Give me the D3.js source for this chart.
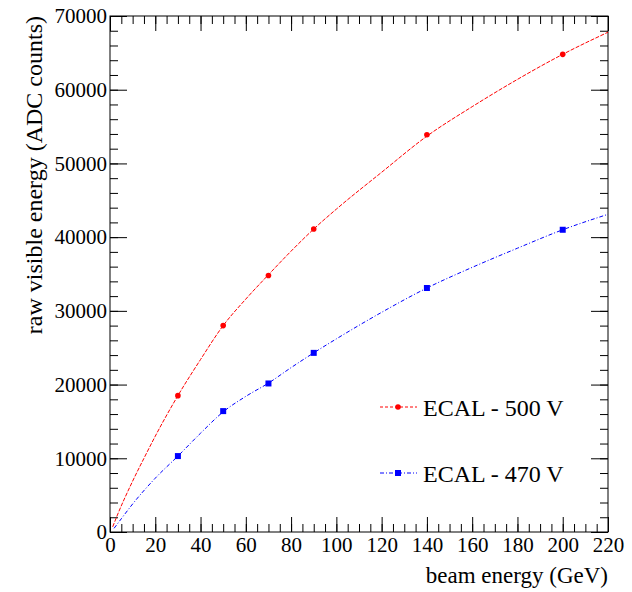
<!DOCTYPE html>
<html>
<head>
<meta charset="utf-8">
<script src="https://cdn.jsdelivr.net/npm/d3@7"></script>
<style>
  body { margin: 0; background: #fff; }
</style>
</head>
<body>
<div id="frame"></div>
<script>
// measured points
const energies = [30, 50, 70, 90, 140, 200];
const ecal500 = [18500, 28000, 34800, 41100, 53900, 64800];
const ecal470 = [10300, 16400, 20150, 24300, 33100, 41000];

// fit curves
const fitX500 = [1.2, 3, 10, 15, 20, 30, 40, 50, 60, 70, 80, 90, 100, 120, 140, 160, 180, 200, 220];
const fitY500 = [700, 2100, 6900, 10000, 13000, 18500, 23400, 28000, 31600, 34900, 38100, 41100, 43800, 48800, 53700, 57700, 61400, 64800, 67800];
const fitX470 = [1.8, 5, 10, 20, 30, 40, 50, 60, 70, 80, 90, 100, 120, 140, 160, 180, 200, 220];
const fitY470 = [500, 1800, 3800, 7300, 10300, 13400, 16300, 18400, 20200, 22300, 24300, 26200, 29800, 33100, 35900, 38500, 41000, 43100];

const xMajor = d3.range(0, 221, 20);
const xMinor = d3.range(0, 221, 5);
const yMajor = d3.range(0, 70001, 10000);
const yMinor = d3.range(0, 70001, 2000);

const legendLabels = ['ECAL - 500 V', 'ECAL - 470 V'];

const serif = '"Liberation Serif"';

let margin = { top: 16, right: 24, bottom: 60, left: 110 },
    width = 632 - margin.left - margin.right,
    height = 592 - margin.top - margin.bottom;

let svg = d3.select('#frame')
    .append('svg')
    .attr('width', 632)
    .attr('height', 592)
    .append('g')
    .attr('transform', 'translate(' + margin.left + ',' + margin.top + ')');

let x = d3.scaleLinear().domain([0, 220]).range([0, width]);
let y = d3.scaleLinear().domain([0, 70000]).range([height, 0]);

// ticks on all four sides, pointing inward
function axisStyle(g) {
    g.attr('font-family', null).attr('font-size', null);
    g.select('.domain').remove();
    g.selectAll('line').attr('stroke', '#000').attr('stroke-width', 1);
    g.selectAll('text')
        .attr('fill', '#000')
        .style('font-family', serif)
        .style('font-size', '21px');
}
svg.append('g').attr('transform', 'translate(0,' + height + ')')
    .call(d3.axisBottom(x).tickValues(xMinor).tickSize(-8).tickFormat(''))
    .call(axisStyle);
svg.append('g').attr('transform', 'translate(0,' + height + ')')
    .call(d3.axisBottom(x).tickValues(xMajor).tickSize(-15).tickPadding(5).tickFormat(d3.format('d')))
    .call(axisStyle);
svg.append('g')
    .call(d3.axisTop(x).tickValues(xMinor).tickSize(-8).tickFormat(''))
    .call(axisStyle);
svg.append('g')
    .call(d3.axisTop(x).tickValues(xMajor).tickSize(-15).tickFormat(''))
    .call(axisStyle);

svg.append('g')
    .call(d3.axisLeft(y).tickValues(yMinor).tickSize(-8).tickFormat(''))
    .call(axisStyle);
svg.append('g')
    .call(d3.axisLeft(y).tickValues(yMajor).tickSize(-17).tickPadding(3).tickFormat(d3.format('d')))
    .call(axisStyle);
svg.append('g').attr('transform', 'translate(' + width + ',0)')
    .call(d3.axisRight(y).tickValues(yMinor).tickSize(-8).tickFormat(''))
    .call(axisStyle);
svg.append('g').attr('transform', 'translate(' + width + ',0)')
    .call(d3.axisRight(y).tickValues(yMajor).tickSize(-17).tickFormat(''))
    .call(axisStyle);

// frame
svg.append('rect')
    .attr('x', 0).attr('y', 0)
    .attr('width', width).attr('height', height)
    .attr('fill', 'none').attr('stroke', '#000').attr('stroke-width', 1);

// fit curves
let line = d3.line()
    .x(d => x(d[0]))
    .y(d => y(d[1]))
    .curve(d3.curveMonotoneX);

svg.append('path')
    .datum(d3.zip(fitX500, fitY500))
    .attr('d', line)
    .attr('fill', 'none')
    .attr('stroke', '#ff0000')
    .attr('stroke-width', 1)
    .attr('stroke-dasharray', '4,1.5');

svg.append('path')
    .datum(d3.zip(fitX470, fitY470))
    .attr('d', line)
    .attr('fill', 'none')
    .attr('stroke', '#0000ff')
    .attr('stroke-width', 1)
    .attr('stroke-dasharray', '4,2,1,2');

// markers
svg.selectAll('circle.p500')
    .data(d3.zip(energies, ecal500))
    .enter()
    .append('circle')
    .attr('class', 'p500')
    .attr('cx', d => x(d[0]))
    .attr('cy', d => y(d[1]))
    .attr('r', 2.8)
    .attr('fill', '#ff0000');

svg.selectAll('rect.p470')
    .data(d3.zip(energies, ecal470))
    .enter()
    .append('rect')
    .attr('class', 'p470')
    .attr('x', d => x(d[0]) - 3)
    .attr('y', d => y(d[1]) - 3)
    .attr('width', 6)
    .attr('height', 6)
    .attr('fill', '#0000ff');

// legend
let legend = svg.append('g').attr('transform', 'translate(270,391)');
[0, 1].forEach(i => {
    let g = legend.append('g').attr('transform', 'translate(0,' + i * 66 + ')');
    g.append('line')
        .attr('x1', 0).attr('x2', 37).attr('y1', 0).attr('y2', 0)
        .attr('stroke', i ? '#0000ff' : '#ff0000')
        .attr('stroke-width', 1)
        .attr('stroke-dasharray', i ? '4,2,1,2' : '3,2');
    if (i) {
        g.append('rect').attr('x', 15).attr('y', -3).attr('width', 6).attr('height', 6).attr('fill', '#0000ff');
    } else {
        g.append('circle').attr('cx', 18).attr('cy', 0).attr('r', 2.8).attr('fill', '#ff0000');
    }
    g.append('text')
        .attr('x', 43).attr('y', 8.5)
        .style('font-family', serif)
        .style('font-size', '24px')
        .text(legendLabels[i]);
});

// axis titles
svg.append('text')
    .attr('x', width)
    .attr('y', height + 51)
    .style('text-anchor', 'end')
    .style('font-family', serif)
    .style('font-size', '23px')
    .text('beam energy (GeV)');

svg.append('text')
    .attr('transform', 'rotate(-90)')
    .attr('x', 0)
    .attr('y', -68)
    .style('text-anchor', 'end')
    .style('font-family', serif)
    .style('font-size', '24px')
    .text('raw visible energy (ADC counts)');
</script>
</body>
</html>
